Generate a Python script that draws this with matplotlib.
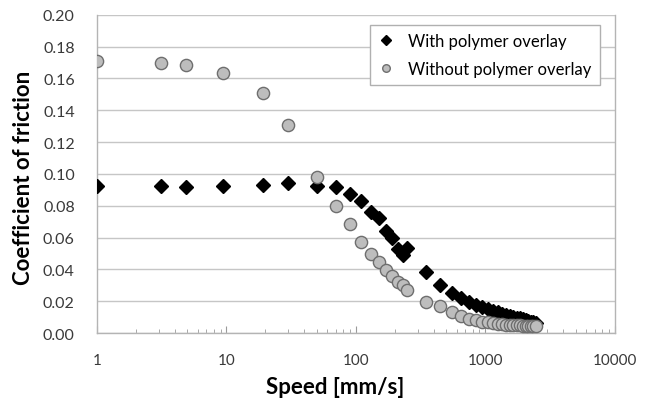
import matplotlib
matplotlib.use("Agg")
import matplotlib.pyplot as plt
from matplotlib.ticker import LogLocator, FixedLocator, NullFormatter

# ---- data (speed in mm/s, coefficient of friction) ----
speed = [1, 3.1, 4.9, 9.4, 19.3, 30,
         50, 70, 90, 110, 130, 150, 170, 190, 210, 230, 250,
         350, 450, 550, 650, 750, 850, 950, 1050, 1150, 1250, 1350, 1450,
         1550, 1650, 1750, 1850, 1950, 2050, 2150, 2250, 2350, 2450]

cof_with = [0.0923, 0.0923, 0.0920, 0.0927, 0.0931, 0.0943,
            0.0925, 0.0916, 0.0874, 0.0832, 0.0763, 0.0721, 0.0643, 0.0596,
            0.0530, 0.0488, 0.0537,
            0.0383, 0.0300, 0.0250, 0.0220, 0.0193, 0.0178, 0.0162, 0.0150,
            0.0140, 0.0131, 0.0123, 0.0116, 0.0110, 0.0104, 0.0098, 0.0092,
            0.0087, 0.0082, 0.0078, 0.0073, 0.0068, 0.0063]

cof_without = [0.171, 0.170, 0.1686, 0.1635, 0.151, 0.131,
               0.098, 0.080, 0.0686, 0.057, 0.0497, 0.0446, 0.0397, 0.0358,
               0.032, 0.030, 0.027,
               0.0195, 0.0168, 0.0130, 0.0108, 0.0090, 0.0080, 0.0071, 0.0067,
               0.0063, 0.0060, 0.0057, 0.0054, 0.0051, 0.0050, 0.0049, 0.0048,
               0.0047, 0.0046, 0.0046, 0.0045, 0.0044, 0.0043]

y_ticks = [0.00, 0.02, 0.04, 0.06, 0.08, 0.10, 0.12, 0.14, 0.16, 0.18, 0.20]
x_ticks = [1, 10, 100, 1000, 10000]

plt.rcParams['font.family'] = ['Lato', 'DejaVu Sans']

fig = plt.figure(figsize=(6.47, 4.06), dpi=100)
ax = fig.add_axes([0.150, 0.177, 0.800, 0.784])

ax.plot(speed, cof_with, linestyle="none", marker="D", ms=7.6,
        color="black", mec="black", label="With polymer overlay", zorder=3)
ax.plot(speed, cof_without, linestyle="none", marker="o", ms=8.8,
        color="#bdbdbd", mec="#6e6e6e", mew=1.0,
        label="Without polymer overlay", zorder=4)

ax.set_xscale("log")
ax.set_xlim(1, 10000)
ax.set_ylim(0, 0.20)
ax.xaxis.set_major_locator(FixedLocator(x_ticks))
ax.set_xticklabels([str(t) for t in x_ticks])
ax.xaxis.set_minor_locator(LogLocator(base=10, subs=range(2, 10)))
ax.xaxis.set_minor_formatter(NullFormatter())
ax.set_yticks(y_ticks)
ax.set_yticklabels([f"{t:.2f}" for t in y_ticks])

ax.grid(axis="y", color="#c6c6c6", linewidth=1.0)
ax.set_axisbelow(True)

for side in ("left", "bottom", "right"):
    ax.spines[side].set_color("#b4b4b4")
    ax.spines[side].set_linewidth(1.0)
ax.spines["top"].set_visible(False)

ax.tick_params(axis="y", length=0, pad=16, labelsize=11.5, labelcolor="#3a3a3a")
ax.tick_params(axis="x", which="major", direction="in", length=5,
               color="#9a9a9a", pad=14, labelsize=11, labelcolor="#3a3a3a")
ax.tick_params(axis="x", which="minor", direction="in", length=3,
               color="#9a9a9a")

ax.set_xlabel("Speed [mm/s]", fontsize=16, fontweight="bold")
ax.xaxis.set_label_coords(0.461, -0.135)
ax.set_ylabel("Coefficient of friction", fontsize=16, fontweight="bold")
ax.yaxis.set_label_coords(-0.122, 0.49)

leg = ax.legend(loc="upper right", bbox_to_anchor=(0.971, 0.969),
                borderaxespad=0, fontsize=12, frameon=True, fancybox=False,
                framealpha=1, edgecolor="#b0b0b0", markerscale=0.62,
                handlelength=1.0, handletextpad=0.8, borderpad=0.5,
                labelspacing=0.7)
leg.get_frame().set_linewidth(1.0)

fig.savefig("out.png", dpi=100)
